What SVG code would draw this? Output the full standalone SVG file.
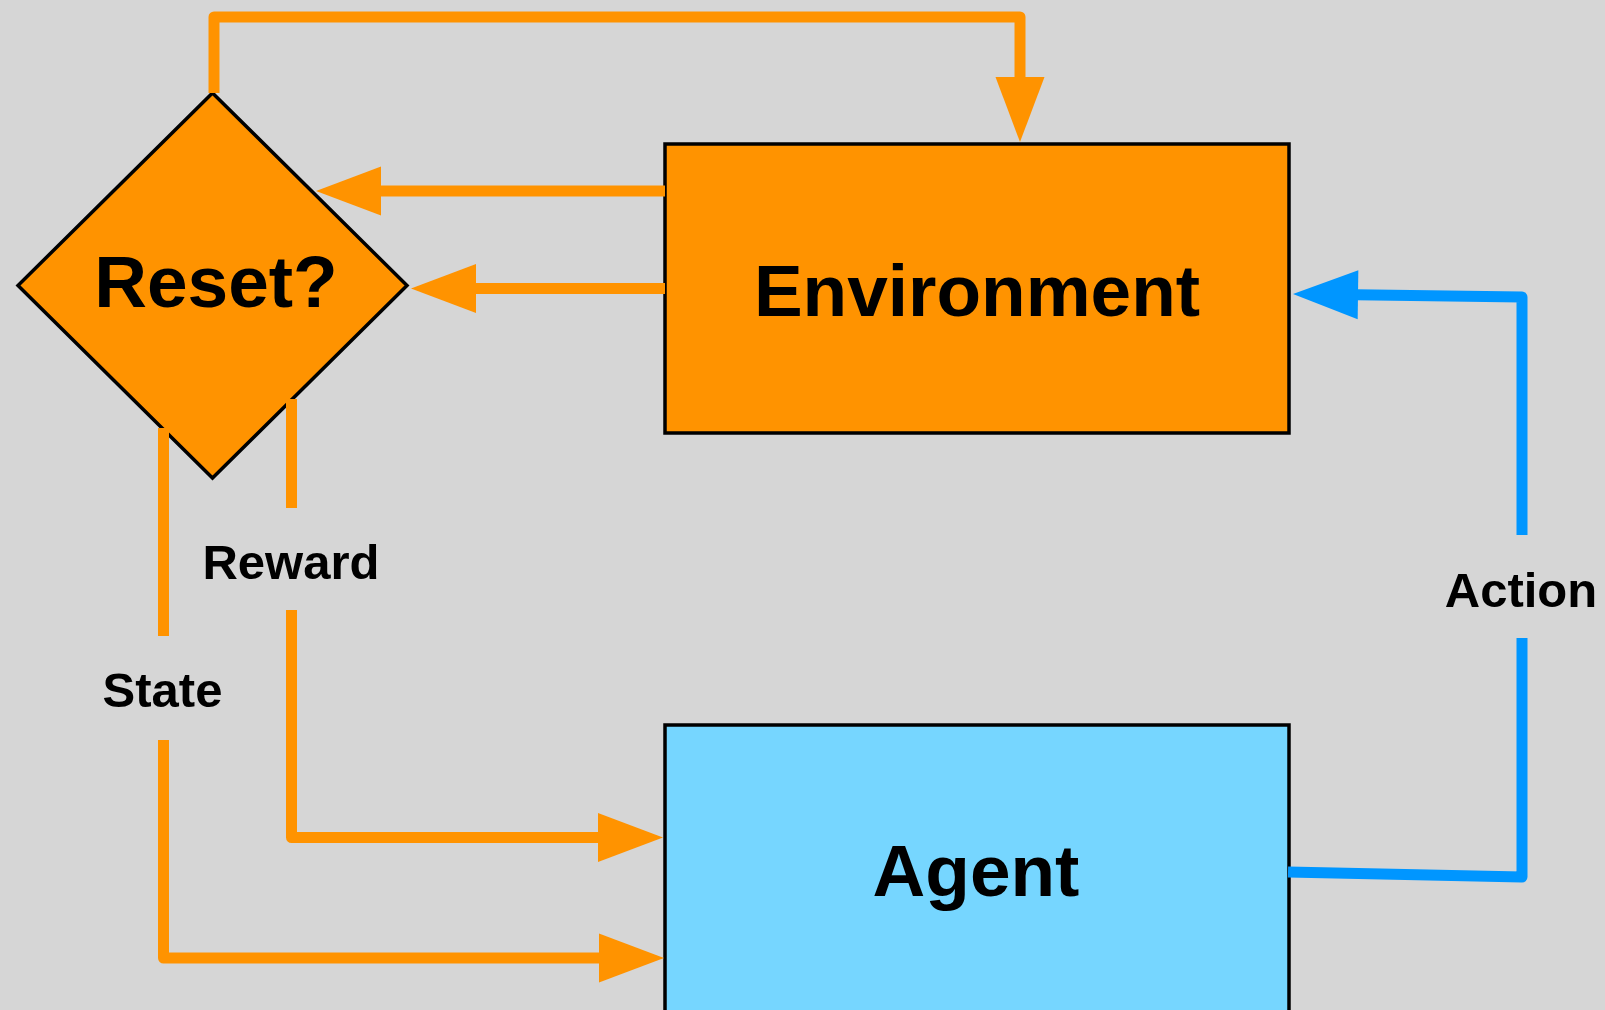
<svg xmlns="http://www.w3.org/2000/svg" width="1605" height="1010" viewBox="0 0 1605 1010">
  <style>
    .node { stroke: #000; stroke-width: 3.5; stroke-linejoin: miter; }
    .orange { fill: #FF9300; }
    .sky { fill: #76D6FF; }
    .title { font-family: "Liberation Sans", Arial, sans-serif; font-weight: bold; font-size: 73px; fill: #000; text-anchor: middle; }
    .label { font-family: "Liberation Sans", Arial, sans-serif; font-weight: bold; font-size: 49px; fill: #000; text-anchor: middle; }
    .wire { fill: none; stroke-width: 11; stroke-linejoin: round; stroke-linecap: butt; }
    .o { stroke: #FF9300; }
    .b { stroke: #0096FF; }
  </style>
  <defs>
    <marker id="arrO" markerUnits="userSpaceOnUse" markerWidth="70" markerHeight="50" refX="2" refY="24.5" orient="auto" overflow="visible">
      <path d="M0,0 L65,24.5 L0,49 Z" fill="#FF9300"/>
    </marker>
    <marker id="arrB" markerUnits="userSpaceOnUse" markerWidth="70" markerHeight="50" refX="2" refY="24.5" orient="auto" overflow="visible">
      <path d="M0,0 L65,24.5 L0,49 Z" fill="#0096FF"/>
    </marker>
  </defs>
  <rect x="0" y="0" width="1605" height="1010" fill="#D6D6D6"/>

  <g id="reset">
    <polygon class="node orange" points="212.5,93 407,285.5 212.5,478 18,285.5"/>
    <text class="title" x="216" y="307" font-size="72">Reset?</text>
  </g>

  <g id="environment">
    <rect class="node orange" x="665" y="144" width="624" height="289"/>
    <text class="title" x="977" y="316">Environment</text>
  </g>

  <g id="agent">
    <rect class="node sky" x="665" y="725" width="624" height="290"/>
    <text class="title" x="976" y="896">Agent</text>
  </g>

  <g id="connectors">
    <!-- Reset? -> Environment (top loop) -->
    <path class="wire o" d="M214,93 L214,17 L1020,17 L1020,79" marker-end="url(#arrO)"/>
    <!-- Environment -> Reset? (upper) -->
    <path class="wire o" d="M665,191 L379,191" marker-end="url(#arrO)"/>
    <!-- Environment -> Reset? (lower) -->
    <path class="wire o" d="M665,288.5 L474,288.5" marker-end="url(#arrO)"/>
    <!-- Reset? -> Agent : Reward -->
    <path class="wire o" d="M291.5,399 L291.5,508"/>
    <path class="wire o" d="M291.5,610 L291.5,837.5 L600,837.5" marker-end="url(#arrO)"/>
    <!-- Reset? -> Agent : State -->
    <path class="wire o" d="M163.5,428 L163.5,636"/>
    <path class="wire o" d="M163.5,740 L163.5,958 L601,958" marker-end="url(#arrO)"/>
    <!-- Agent -> Environment : Action -->
    <path class="wire b" d="M1288,872 L1522,877 L1522,638"/>
    <path class="wire b" d="M1522,535 L1522,297 L1356,294.8" marker-end="url(#arrB)"/>
  </g>

  <g id="labels">
    <text class="label" x="291" y="579">Reward</text>
    <text class="label" x="162.5" y="707">State</text>
    <text class="label" x="1521" y="607">Action</text>
  </g>
</svg>
